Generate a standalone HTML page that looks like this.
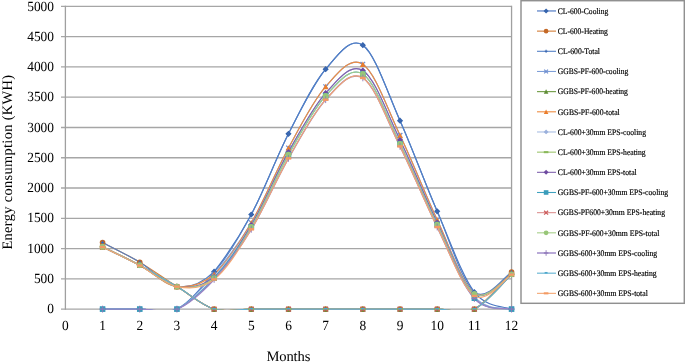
<!DOCTYPE html><html><head><meta charset="utf-8"><style>html,body{margin:0;padding:0;background:#fff;}svg{display:block;will-change:transform;}text{font-family:"Liberation Serif",serif;text-rendering:geometricPrecision;}</style></head><body>
<svg width="685" height="362" viewBox="0 0 685 362">
<rect width="685" height="362" fill="#fff"/>
<defs><clipPath id="pc"><rect x="65.40" y="6.40" width="446.66" height="303.70"/></clipPath></defs>
<path d="M61 309.10H511.56 M61 278.83H511.56 M61 248.56H511.56 M61 218.29H511.56 M61 188.02H511.56 M61 157.75H511.56 M61 127.48H511.56 M61 97.21H511.56 M61 66.94H511.56 M61 36.67H511.56 M61 6.40H511.56" stroke="#a6a6a6" stroke-width="1.3" fill="none"/>
<path d="M65.40 5.80V309.70M511.56 5.80V309.70" stroke="#a0a0a0" stroke-width="1.3" fill="none"/>
<text x="54" y="313.20" font-size="14" text-anchor="end" fill="#000" textLength="6.70" lengthAdjust="spacingAndGlyphs">0</text>
<text x="54" y="282.93" font-size="14" text-anchor="end" fill="#000" textLength="20.10" lengthAdjust="spacingAndGlyphs">500</text>
<text x="54" y="252.66" font-size="14" text-anchor="end" fill="#000" textLength="26.80" lengthAdjust="spacingAndGlyphs">1000</text>
<text x="54" y="222.39" font-size="14" text-anchor="end" fill="#000" textLength="26.80" lengthAdjust="spacingAndGlyphs">1500</text>
<text x="54" y="192.12" font-size="14" text-anchor="end" fill="#000" textLength="26.80" lengthAdjust="spacingAndGlyphs">2000</text>
<text x="54" y="161.85" font-size="14" text-anchor="end" fill="#000" textLength="26.80" lengthAdjust="spacingAndGlyphs">2500</text>
<text x="54" y="131.58" font-size="14" text-anchor="end" fill="#000" textLength="26.80" lengthAdjust="spacingAndGlyphs">3000</text>
<text x="54" y="101.31" font-size="14" text-anchor="end" fill="#000" textLength="26.80" lengthAdjust="spacingAndGlyphs">3500</text>
<text x="54" y="71.04" font-size="14" text-anchor="end" fill="#000" textLength="26.80" lengthAdjust="spacingAndGlyphs">4000</text>
<text x="54" y="40.77" font-size="14" text-anchor="end" fill="#000" textLength="26.80" lengthAdjust="spacingAndGlyphs">4500</text>
<text x="54" y="10.50" font-size="14" text-anchor="end" fill="#000" textLength="26.80" lengthAdjust="spacingAndGlyphs">5000</text>
<text x="65.40" y="329.7" font-size="14" text-anchor="middle" fill="#000" textLength="6.70" lengthAdjust="spacingAndGlyphs">0</text>
<text x="102.58" y="329.7" font-size="14" text-anchor="middle" fill="#000" textLength="6.70" lengthAdjust="spacingAndGlyphs">1</text>
<text x="139.76" y="329.7" font-size="14" text-anchor="middle" fill="#000" textLength="6.70" lengthAdjust="spacingAndGlyphs">2</text>
<text x="176.94" y="329.7" font-size="14" text-anchor="middle" fill="#000" textLength="6.70" lengthAdjust="spacingAndGlyphs">3</text>
<text x="214.12" y="329.7" font-size="14" text-anchor="middle" fill="#000" textLength="6.70" lengthAdjust="spacingAndGlyphs">4</text>
<text x="251.30" y="329.7" font-size="14" text-anchor="middle" fill="#000" textLength="6.70" lengthAdjust="spacingAndGlyphs">5</text>
<text x="288.48" y="329.7" font-size="14" text-anchor="middle" fill="#000" textLength="6.70" lengthAdjust="spacingAndGlyphs">6</text>
<text x="325.66" y="329.7" font-size="14" text-anchor="middle" fill="#000" textLength="6.70" lengthAdjust="spacingAndGlyphs">7</text>
<text x="362.84" y="329.7" font-size="14" text-anchor="middle" fill="#000" textLength="6.70" lengthAdjust="spacingAndGlyphs">8</text>
<text x="400.02" y="329.7" font-size="14" text-anchor="middle" fill="#000" textLength="6.70" lengthAdjust="spacingAndGlyphs">9</text>
<text x="437.20" y="329.7" font-size="14" text-anchor="middle" fill="#000" textLength="13.40" lengthAdjust="spacingAndGlyphs">10</text>
<text x="474.38" y="329.7" font-size="14" text-anchor="middle" fill="#000" textLength="13.40" lengthAdjust="spacingAndGlyphs">11</text>
<text x="511.56" y="329.7" font-size="14" text-anchor="middle" fill="#000" textLength="13.40" lengthAdjust="spacingAndGlyphs">12</text>
<text x="266.4" y="360.6" font-size="14.6" fill="#000" textLength="44.0">Months</text>
<text transform="translate(12.0 249.6) rotate(-90)" x="0" y="0" font-size="14.4" fill="#000" textLength="174.6">Energy consumption (KWH)</text>
<path clip-path="url(#pc)" d="M102.58 309.10 C108.78 309.10 127.37 309.10 139.76 309.10 C152.15 309.10 164.55 315.35 176.94 309.10 C189.33 302.85 201.73 287.40 214.12 271.63 C226.51 255.86 238.91 237.45 251.30 214.48 C263.69 191.50 276.09 157.99 288.48 133.78 C300.87 109.56 313.27 83.94 325.66 69.18 C338.05 54.42 350.45 36.62 362.84 45.21 C375.23 53.79 387.63 93.01 400.02 120.70 C412.41 148.39 424.81 182.75 437.20 211.33 C449.59 239.90 461.99 275.85 474.38 292.15 C486.77 308.44 505.36 306.27 511.56 309.10" stroke="#4a76c2" stroke-width="1.20" fill="none" stroke-linejoin="round" stroke-linecap="round"/>
<path clip-path="url(#pc)" d="M102.58 242.51 C108.78 245.79 127.37 254.84 139.76 262.18 C152.15 269.53 164.55 278.76 176.94 286.58 C189.33 294.40 201.73 305.35 214.12 309.10 C226.51 312.85 238.91 309.10 251.30 309.10 C263.69 309.10 276.09 309.10 288.48 309.10 C300.87 309.10 313.27 309.10 325.66 309.10 C338.05 309.10 350.45 309.10 362.84 309.10 C375.23 309.10 387.63 309.10 400.02 309.10 C412.41 309.10 424.81 309.10 437.20 309.10 C449.59 309.10 461.99 315.28 474.38 309.10 C486.77 302.92 505.36 278.22 511.56 272.05" stroke="#d5813d" stroke-width="1.20" fill="none" stroke-linejoin="round" stroke-linecap="round"/>
<path clip-path="url(#pc)" d="M102.58 242.51 C108.78 245.79 127.37 254.84 139.76 262.18 C152.15 269.53 164.55 285.01 176.94 286.58 C189.33 288.15 201.73 283.64 214.12 271.63 C226.51 259.61 238.91 237.45 251.30 214.48 C263.69 191.50 276.09 157.99 288.48 133.78 C300.87 109.56 313.27 83.94 325.66 69.18 C338.05 54.42 350.45 36.62 362.84 45.21 C375.23 53.79 387.63 93.01 400.02 120.70 C412.41 148.39 424.81 182.75 437.20 211.33 C449.59 239.90 461.99 282.03 474.38 292.15 C486.77 302.27 505.36 275.40 511.56 272.05" stroke="#5380c6" stroke-width="1.15" fill="none" stroke-linejoin="round" stroke-linecap="round"/>
<path clip-path="url(#pc)" d="M102.58 309.10 C108.78 309.10 127.37 309.10 139.76 309.10 C152.15 309.10 164.55 314.90 176.94 309.10 C189.33 303.30 201.73 288.69 214.12 274.29 C226.51 259.89 238.91 243.77 251.30 222.71 C263.69 201.65 276.09 170.62 288.48 147.94 C300.87 125.26 313.27 100.57 325.66 86.62 C338.05 72.66 350.45 56.10 362.84 64.22 C375.23 72.33 387.63 109.36 400.02 135.29 C412.41 161.22 424.81 192.90 437.20 219.80 C449.59 246.70 461.99 281.81 474.38 296.69 C486.77 311.57 505.36 307.03 511.56 309.10" stroke="#7f9fd8" stroke-width="1.15" fill="none" stroke-linejoin="round" stroke-linecap="round"/>
<path clip-path="url(#pc)" d="M102.58 246.74 C108.78 249.82 127.37 258.57 139.76 265.21 C152.15 271.85 164.55 279.26 176.94 286.58 C189.33 293.89 201.73 305.35 214.12 309.10 C226.51 312.85 238.91 309.10 251.30 309.10 C263.69 309.10 276.09 309.10 288.48 309.10 C300.87 309.10 313.27 309.10 325.66 309.10 C338.05 309.10 350.45 309.10 362.84 309.10 C375.23 309.10 387.63 309.10 400.02 309.10 C412.41 309.10 424.81 309.10 437.20 309.10 C449.59 309.10 461.99 314.93 474.38 309.10 C486.77 303.27 505.36 279.94 511.56 274.11" stroke="#6c9a40" stroke-width="1.15" fill="none" stroke-linejoin="round" stroke-linecap="round"/>
<path clip-path="url(#pc)" d="M102.58 246.74 C108.78 249.82 127.37 258.57 139.76 265.21 C152.15 271.85 164.55 285.07 176.94 286.58 C189.33 288.09 201.73 284.93 214.12 274.29 C226.51 263.64 238.91 243.77 251.30 222.71 C263.69 201.65 276.09 170.62 288.48 147.94 C300.87 125.26 313.27 100.57 325.66 86.62 C338.05 72.66 350.45 56.10 362.84 64.22 C375.23 72.33 387.63 109.36 400.02 135.29 C412.41 161.22 424.81 193.44 437.20 219.80 C449.59 246.17 461.99 284.43 474.38 293.48 C486.77 302.53 505.36 277.34 511.56 274.11" stroke="#ee8c40" stroke-width="1.15" fill="none" stroke-linejoin="round" stroke-linecap="round"/>
<path clip-path="url(#pc)" d="M102.58 309.10 C108.78 309.10 127.37 309.10 139.76 309.10 C152.15 309.10 164.55 314.45 176.94 309.10 C189.33 303.75 201.73 291.03 214.12 277.01 C226.51 263.00 238.91 245.87 251.30 225.01 C263.69 204.15 276.09 173.86 288.48 151.88 C300.87 129.89 313.27 106.64 325.66 93.09 C338.05 79.54 350.45 62.77 362.84 70.57 C375.23 78.37 387.63 114.56 400.02 139.89 C412.41 165.22 424.81 196.24 437.20 222.53 C449.59 248.81 461.99 283.17 474.38 297.60 C486.77 312.03 505.36 307.18 511.56 309.10" stroke="#a8bde3" stroke-width="1.15" fill="none" stroke-linejoin="round" stroke-linecap="round"/>
<path clip-path="url(#pc)" d="M102.58 246.74 C108.78 249.82 127.37 258.57 139.76 265.21 C152.15 271.85 164.55 279.26 176.94 286.58 C189.33 293.89 201.73 305.35 214.12 309.10 C226.51 312.85 238.91 309.10 251.30 309.10 C263.69 309.10 276.09 309.10 288.48 309.10 C300.87 309.10 313.27 309.10 325.66 309.10 C338.05 309.10 350.45 309.10 362.84 309.10 C375.23 309.10 387.63 309.10 400.02 309.10 C412.41 309.10 424.81 309.10 437.20 309.10 C449.59 309.10 461.99 314.90 474.38 309.10 C486.77 303.30 505.36 280.09 511.56 274.29" stroke="#9cc46c" stroke-width="1.15" fill="none" stroke-linejoin="round" stroke-linecap="round"/>
<path clip-path="url(#pc)" d="M102.58 246.74 C108.78 249.82 127.37 258.57 139.76 265.21 C152.15 271.85 164.55 284.61 176.94 286.58 C189.33 288.55 201.73 287.28 214.12 277.01 C226.51 266.75 238.91 245.87 251.30 225.01 C263.69 204.15 276.09 173.86 288.48 151.88 C300.87 129.89 313.27 106.64 325.66 93.09 C338.05 79.54 350.45 62.77 362.84 70.57 C375.23 78.37 387.63 114.56 400.02 139.89 C412.41 165.22 424.81 196.87 437.20 222.53 C449.59 248.19 461.99 285.22 474.38 293.84 C486.77 302.47 505.36 277.55 511.56 274.29" stroke="#8062ae" stroke-width="1.15" fill="none" stroke-linejoin="round" stroke-linecap="round"/>
<path clip-path="url(#pc)" d="M102.58 309.10 C108.78 309.10 127.37 309.10 139.76 309.10 C152.15 309.10 164.55 314.25 176.94 309.10 C189.33 303.95 201.73 291.91 214.12 278.22 C226.51 264.54 238.91 247.61 251.30 227.01 C263.69 206.40 276.09 176.46 288.48 154.60 C300.87 132.75 313.27 109.31 325.66 95.88 C338.05 82.45 350.45 66.03 362.84 74.02 C375.23 82.01 387.63 118.73 400.02 143.83 C412.41 168.92 424.81 198.86 437.20 224.59 C449.59 250.32 461.99 284.12 474.38 298.20 C486.77 312.29 505.36 307.28 511.56 309.10" stroke="#3fa2bf" stroke-width="1.15" fill="none" stroke-linejoin="round" stroke-linecap="round"/>
<path clip-path="url(#pc)" d="M102.58 246.74 C108.78 249.82 127.37 258.57 139.76 265.21 C152.15 271.85 164.55 279.26 176.94 286.58 C189.33 293.89 201.73 305.35 214.12 309.10 C226.51 312.85 238.91 309.10 251.30 309.10 C263.69 309.10 276.09 309.10 288.48 309.10 C300.87 309.10 313.27 309.10 325.66 309.10 C338.05 309.10 350.45 309.10 362.84 309.10 C375.23 309.10 387.63 309.10 400.02 309.10 C412.41 309.10 424.81 309.10 437.20 309.10 C449.59 309.10 461.99 314.90 474.38 309.10 C486.77 303.30 505.36 280.09 511.56 274.29" stroke="#dc9090" stroke-width="1.15" fill="none" stroke-linejoin="round" stroke-linecap="round"/>
<path clip-path="url(#pc)" d="M102.58 246.74 C108.78 249.82 127.37 258.57 139.76 265.21 C152.15 271.85 164.55 284.41 176.94 286.58 C189.33 288.75 201.73 288.15 214.12 278.22 C226.51 268.30 238.91 247.61 251.30 227.01 C263.69 206.40 276.09 176.46 288.48 154.60 C300.87 132.75 313.27 109.31 325.66 95.88 C338.05 82.45 350.45 66.03 362.84 74.02 C375.23 82.01 387.63 118.73 400.02 143.83 C412.41 168.92 424.81 199.58 437.20 224.59 C449.59 249.59 461.99 285.56 474.38 293.84 C486.77 302.13 505.36 277.55 511.56 274.29" stroke="#a6cf88" stroke-width="1.15" fill="none" stroke-linejoin="round" stroke-linecap="round"/>
<path clip-path="url(#pc)" d="M102.58 309.10 C108.78 309.10 127.37 309.10 139.76 309.10 C152.15 309.10 164.55 314.04 176.94 309.10 C189.33 304.16 201.73 292.73 214.12 279.44 C226.51 266.14 238.91 249.49 251.30 229.31 C263.69 209.13 276.09 179.96 288.48 158.36 C300.87 136.75 313.27 113.10 325.66 99.69 C338.05 86.28 350.45 70.12 362.84 77.90 C375.23 85.68 387.63 121.51 400.02 146.37 C412.41 171.23 424.81 201.71 437.20 227.07 C449.59 252.42 461.99 284.83 474.38 298.51 C486.77 312.18 505.36 307.33 511.56 309.10" stroke="#9a84c6" stroke-width="1.45" fill="none" stroke-linejoin="round" stroke-linecap="round"/>
<path clip-path="url(#pc)" d="M102.58 247.05 C108.78 250.12 127.37 258.92 139.76 265.51 C152.15 272.10 164.55 279.31 176.94 286.58 C189.33 293.84 201.73 305.35 214.12 309.10 C226.51 312.85 238.91 309.10 251.30 309.10 C263.69 309.10 276.09 309.10 288.48 309.10 C300.87 309.10 313.27 309.10 325.66 309.10 C338.05 309.10 350.45 309.10 362.84 309.10 C375.23 309.10 387.63 309.10 400.02 309.10 C412.41 309.10 424.81 309.10 437.20 309.10 C449.59 309.10 461.99 314.85 474.38 309.10 C486.77 303.35 505.36 280.34 511.56 274.59" stroke="#5fb1d1" stroke-width="1.15" fill="none" stroke-linejoin="round" stroke-linecap="round"/>
<path clip-path="url(#pc)" d="M102.58 247.05 C108.78 250.12 127.37 258.92 139.76 265.51 C152.15 272.10 164.55 284.26 176.94 286.58 C189.33 288.90 201.73 288.98 214.12 279.44 C226.51 269.89 238.91 249.49 251.30 229.31 C263.69 209.13 276.09 179.96 288.48 158.36 C300.87 136.75 313.27 113.10 325.66 99.69 C338.05 86.28 350.45 70.12 362.84 77.90 C375.23 85.68 387.63 121.51 400.02 146.37 C412.41 171.23 424.81 202.13 437.20 227.07 C449.59 252.01 461.99 288.10 474.38 296.02 C486.77 303.94 505.36 278.16 511.56 274.59" stroke="#f4a672" stroke-width="1.15" fill="none" stroke-linejoin="round" stroke-linecap="round"/>
<path d="M102.58 306.00L105.68 309.10L102.58 312.20L99.48 309.10Z" fill="#3463ac"/>
<path d="M139.76 306.00L142.86 309.10L139.76 312.20L136.66 309.10Z" fill="#3463ac"/>
<path d="M176.94 306.00L180.04 309.10L176.94 312.20L173.84 309.10Z" fill="#3463ac"/>
<path d="M214.12 268.53L217.22 271.63L214.12 274.73L211.02 271.63Z" fill="#3463ac"/>
<path d="M251.30 211.38L254.40 214.48L251.30 217.58L248.20 214.48Z" fill="#3463ac"/>
<path d="M288.48 130.68L291.58 133.78L288.48 136.88L285.38 133.78Z" fill="#3463ac"/>
<path d="M325.66 66.08L328.76 69.18L325.66 72.28L322.56 69.18Z" fill="#3463ac"/>
<path d="M362.84 42.11L365.94 45.21L362.84 48.31L359.74 45.21Z" fill="#3463ac"/>
<path d="M400.02 117.60L403.12 120.70L400.02 123.80L396.92 120.70Z" fill="#3463ac"/>
<path d="M437.20 208.23L440.30 211.33L437.20 214.43L434.10 211.33Z" fill="#3463ac"/>
<path d="M474.38 289.05L477.48 292.15L474.38 295.25L471.28 292.15Z" fill="#3463ac"/>
<path d="M511.56 306.00L514.66 309.10L511.56 312.20L508.46 309.10Z" fill="#3463ac"/>
<circle cx="102.58" cy="242.51" r="2.80" fill="#c46826"/>
<circle cx="139.76" cy="262.18" r="2.80" fill="#c46826"/>
<circle cx="176.94" cy="286.58" r="2.80" fill="#c46826"/>
<circle cx="214.12" cy="309.10" r="2.80" fill="#c46826"/>
<circle cx="251.30" cy="309.10" r="2.80" fill="#c46826"/>
<circle cx="288.48" cy="309.10" r="2.80" fill="#c46826"/>
<circle cx="325.66" cy="309.10" r="2.80" fill="#c46826"/>
<circle cx="362.84" cy="309.10" r="2.80" fill="#c46826"/>
<circle cx="400.02" cy="309.10" r="2.80" fill="#c46826"/>
<circle cx="437.20" cy="309.10" r="2.80" fill="#c46826"/>
<circle cx="474.38" cy="309.10" r="2.80" fill="#c46826"/>
<circle cx="511.56" cy="272.05" r="2.80" fill="#c46826"/>
<path d="M100.98 242.51L104.18 242.51" stroke="#3d69b2" stroke-width="1.3" fill="none"/><path d="M102.58 240.51L102.58 244.51" stroke="#3d69b2" stroke-width="0.9" fill="none"/>
<path d="M138.16 262.18L141.36 262.18" stroke="#3d69b2" stroke-width="1.3" fill="none"/><path d="M139.76 260.18L139.76 264.18" stroke="#3d69b2" stroke-width="0.9" fill="none"/>
<path d="M175.34 286.58L178.54 286.58" stroke="#3d69b2" stroke-width="1.3" fill="none"/><path d="M176.94 284.58L176.94 288.58" stroke="#3d69b2" stroke-width="0.9" fill="none"/>
<path d="M212.52 271.63L215.72 271.63" stroke="#3d69b2" stroke-width="1.3" fill="none"/><path d="M214.12 269.63L214.12 273.63" stroke="#3d69b2" stroke-width="0.9" fill="none"/>
<path d="M249.70 214.48L252.90 214.48" stroke="#3d69b2" stroke-width="1.3" fill="none"/><path d="M251.30 212.48L251.30 216.48" stroke="#3d69b2" stroke-width="0.9" fill="none"/>
<path d="M286.88 133.78L290.08 133.78" stroke="#3d69b2" stroke-width="1.3" fill="none"/><path d="M288.48 131.78L288.48 135.78" stroke="#3d69b2" stroke-width="0.9" fill="none"/>
<path d="M324.06 69.18L327.26 69.18" stroke="#3d69b2" stroke-width="1.3" fill="none"/><path d="M325.66 67.18L325.66 71.18" stroke="#3d69b2" stroke-width="0.9" fill="none"/>
<path d="M361.24 45.21L364.44 45.21" stroke="#3d69b2" stroke-width="1.3" fill="none"/><path d="M362.84 43.21L362.84 47.21" stroke="#3d69b2" stroke-width="0.9" fill="none"/>
<path d="M398.42 120.70L401.62 120.70" stroke="#3d69b2" stroke-width="1.3" fill="none"/><path d="M400.02 118.70L400.02 122.70" stroke="#3d69b2" stroke-width="0.9" fill="none"/>
<path d="M435.60 211.33L438.80 211.33" stroke="#3d69b2" stroke-width="1.3" fill="none"/><path d="M437.20 209.33L437.20 213.33" stroke="#3d69b2" stroke-width="0.9" fill="none"/>
<path d="M472.78 292.15L475.98 292.15" stroke="#3d69b2" stroke-width="1.3" fill="none"/><path d="M474.38 290.15L474.38 294.15" stroke="#3d69b2" stroke-width="0.9" fill="none"/>
<path d="M509.96 272.05L513.16 272.05" stroke="#3d69b2" stroke-width="1.3" fill="none"/><path d="M511.56 270.05L511.56 274.05" stroke="#3d69b2" stroke-width="0.9" fill="none"/>
<path d="M100.28 306.80L104.88 311.40M100.28 311.40L104.88 306.80" stroke="#6f8fd0" stroke-width="1.25" fill="none"/>
<path d="M137.46 306.80L142.06 311.40M137.46 311.40L142.06 306.80" stroke="#6f8fd0" stroke-width="1.25" fill="none"/>
<path d="M174.64 306.80L179.24 311.40M174.64 311.40L179.24 306.80" stroke="#6f8fd0" stroke-width="1.25" fill="none"/>
<path d="M211.82 271.99L216.42 276.59M211.82 276.59L216.42 271.99" stroke="#6f8fd0" stroke-width="1.25" fill="none"/>
<path d="M249.00 220.41L253.60 225.01M249.00 225.01L253.60 220.41" stroke="#6f8fd0" stroke-width="1.25" fill="none"/>
<path d="M286.18 145.64L290.78 150.24M286.18 150.24L290.78 145.64" stroke="#6f8fd0" stroke-width="1.25" fill="none"/>
<path d="M323.36 84.32L327.96 88.92M323.36 88.92L327.96 84.32" stroke="#6f8fd0" stroke-width="1.25" fill="none"/>
<path d="M360.54 61.92L365.14 66.52M360.54 66.52L365.14 61.92" stroke="#6f8fd0" stroke-width="1.25" fill="none"/>
<path d="M397.72 132.99L402.32 137.59M397.72 137.59L402.32 132.99" stroke="#6f8fd0" stroke-width="1.25" fill="none"/>
<path d="M434.90 217.50L439.50 222.10M434.90 222.10L439.50 217.50" stroke="#6f8fd0" stroke-width="1.25" fill="none"/>
<path d="M472.08 294.39L476.68 298.99M472.08 298.99L476.68 294.39" stroke="#6f8fd0" stroke-width="1.25" fill="none"/>
<path d="M509.26 306.80L513.86 311.40M509.26 311.40L513.86 306.80" stroke="#6f8fd0" stroke-width="1.25" fill="none"/>
<path d="M102.58 243.94L105.38 249.40L99.78 249.40Z" fill="#5e8c34"/>
<path d="M139.76 262.41L142.56 267.87L136.96 267.87Z" fill="#5e8c34"/>
<path d="M176.94 283.78L179.74 289.24L174.14 289.24Z" fill="#5e8c34"/>
<path d="M214.12 306.30L216.92 311.76L211.32 311.76Z" fill="#5e8c34"/>
<path d="M251.30 306.30L254.10 311.76L248.50 311.76Z" fill="#5e8c34"/>
<path d="M288.48 306.30L291.28 311.76L285.68 311.76Z" fill="#5e8c34"/>
<path d="M325.66 306.30L328.46 311.76L322.86 311.76Z" fill="#5e8c34"/>
<path d="M362.84 306.30L365.64 311.76L360.04 311.76Z" fill="#5e8c34"/>
<path d="M400.02 306.30L402.82 311.76L397.22 311.76Z" fill="#5e8c34"/>
<path d="M437.20 306.30L440.00 311.76L434.40 311.76Z" fill="#5e8c34"/>
<path d="M474.38 306.30L477.18 311.76L471.58 311.76Z" fill="#5e8c34"/>
<path d="M511.56 271.31L514.36 276.77L508.76 276.77Z" fill="#5e8c34"/>
<path d="M102.58 243.94L105.38 249.40L99.78 249.40Z" fill="#ea7d2c"/>
<path d="M139.76 262.41L142.56 267.87L136.96 267.87Z" fill="#ea7d2c"/>
<path d="M176.94 283.78L179.74 289.24L174.14 289.24Z" fill="#ea7d2c"/>
<path d="M214.12 271.49L216.92 276.95L211.32 276.95Z" fill="#ea7d2c"/>
<path d="M251.30 219.91L254.10 225.37L248.50 225.37Z" fill="#ea7d2c"/>
<path d="M288.48 145.14L291.28 150.60L285.68 150.60Z" fill="#ea7d2c"/>
<path d="M325.66 83.82L328.46 89.28L322.86 89.28Z" fill="#ea7d2c"/>
<path d="M362.84 61.42L365.64 66.88L360.04 66.88Z" fill="#ea7d2c"/>
<path d="M400.02 132.49L402.82 137.95L397.22 137.95Z" fill="#ea7d2c"/>
<path d="M437.20 217.00L440.00 222.46L434.40 222.46Z" fill="#ea7d2c"/>
<path d="M474.38 290.68L477.18 296.14L471.58 296.14Z" fill="#ea7d2c"/>
<path d="M511.56 271.31L514.36 276.77L508.76 276.77Z" fill="#ea7d2c"/>
<path d="M102.58 306.20L105.48 309.10L102.58 312.00L99.68 309.10Z" fill="#9ab0dc"/>
<path d="M139.76 306.20L142.66 309.10L139.76 312.00L136.86 309.10Z" fill="#9ab0dc"/>
<path d="M176.94 306.20L179.84 309.10L176.94 312.00L174.04 309.10Z" fill="#9ab0dc"/>
<path d="M214.12 274.11L217.02 277.01L214.12 279.91L211.22 277.01Z" fill="#9ab0dc"/>
<path d="M251.30 222.11L254.20 225.01L251.30 227.91L248.40 225.01Z" fill="#9ab0dc"/>
<path d="M288.48 148.98L291.38 151.88L288.48 154.78L285.58 151.88Z" fill="#9ab0dc"/>
<path d="M325.66 90.19L328.56 93.09L325.66 95.99L322.76 93.09Z" fill="#9ab0dc"/>
<path d="M362.84 67.67L365.74 70.57L362.84 73.47L359.94 70.57Z" fill="#9ab0dc"/>
<path d="M400.02 136.99L402.92 139.89L400.02 142.79L397.12 139.89Z" fill="#9ab0dc"/>
<path d="M437.20 219.63L440.10 222.53L437.20 225.43L434.30 222.53Z" fill="#9ab0dc"/>
<path d="M474.38 294.70L477.28 297.60L474.38 300.50L471.48 297.60Z" fill="#9ab0dc"/>
<path d="M511.56 306.20L514.46 309.10L511.56 312.00L508.66 309.10Z" fill="#9ab0dc"/>
<rect x="99.78" y="245.48" width="5.60" height="2.52" fill="#8ab85a"/>
<rect x="136.96" y="263.95" width="5.60" height="2.52" fill="#8ab85a"/>
<rect x="174.14" y="285.32" width="5.60" height="2.52" fill="#8ab85a"/>
<rect x="211.32" y="307.84" width="5.60" height="2.52" fill="#8ab85a"/>
<rect x="248.50" y="307.84" width="5.60" height="2.52" fill="#8ab85a"/>
<rect x="285.68" y="307.84" width="5.60" height="2.52" fill="#8ab85a"/>
<rect x="322.86" y="307.84" width="5.60" height="2.52" fill="#8ab85a"/>
<rect x="360.04" y="307.84" width="5.60" height="2.52" fill="#8ab85a"/>
<rect x="397.22" y="307.84" width="5.60" height="2.52" fill="#8ab85a"/>
<rect x="434.40" y="307.84" width="5.60" height="2.52" fill="#8ab85a"/>
<rect x="471.58" y="307.84" width="5.60" height="2.52" fill="#8ab85a"/>
<rect x="508.76" y="273.03" width="5.60" height="2.52" fill="#8ab85a"/>
<path d="M102.58 243.74L105.58 246.74L102.58 249.74L99.58 246.74Z" fill="#6e4aa0"/>
<path d="M139.76 262.21L142.76 265.21L139.76 268.21L136.76 265.21Z" fill="#6e4aa0"/>
<path d="M176.94 283.58L179.94 286.58L176.94 289.58L173.94 286.58Z" fill="#6e4aa0"/>
<path d="M214.12 274.01L217.12 277.01L214.12 280.01L211.12 277.01Z" fill="#6e4aa0"/>
<path d="M251.30 222.01L254.30 225.01L251.30 228.01L248.30 225.01Z" fill="#6e4aa0"/>
<path d="M288.48 148.88L291.48 151.88L288.48 154.88L285.48 151.88Z" fill="#6e4aa0"/>
<path d="M325.66 90.09L328.66 93.09L325.66 96.09L322.66 93.09Z" fill="#6e4aa0"/>
<path d="M362.84 67.57L365.84 70.57L362.84 73.57L359.84 70.57Z" fill="#6e4aa0"/>
<path d="M400.02 136.89L403.02 139.89L400.02 142.89L397.02 139.89Z" fill="#6e4aa0"/>
<path d="M437.20 219.53L440.20 222.53L437.20 225.53L434.20 222.53Z" fill="#6e4aa0"/>
<path d="M474.38 290.84L477.38 293.84L474.38 296.84L471.38 293.84Z" fill="#6e4aa0"/>
<path d="M511.56 271.29L514.56 274.29L511.56 277.29L508.56 274.29Z" fill="#6e4aa0"/>
<rect x="99.78" y="306.30" width="5.60" height="5.60" fill="#3a9cba"/>
<rect x="136.96" y="306.30" width="5.60" height="5.60" fill="#3a9cba"/>
<rect x="174.14" y="306.30" width="5.60" height="5.60" fill="#3a9cba"/>
<rect x="211.32" y="275.42" width="5.60" height="5.60" fill="#3a9cba"/>
<rect x="248.50" y="224.21" width="5.60" height="5.60" fill="#3a9cba"/>
<rect x="285.68" y="151.80" width="5.60" height="5.60" fill="#3a9cba"/>
<rect x="322.86" y="93.08" width="5.60" height="5.60" fill="#3a9cba"/>
<rect x="360.04" y="71.22" width="5.60" height="5.60" fill="#3a9cba"/>
<rect x="397.22" y="141.03" width="5.60" height="5.60" fill="#3a9cba"/>
<rect x="434.40" y="221.79" width="5.60" height="5.60" fill="#3a9cba"/>
<rect x="471.58" y="295.40" width="5.60" height="5.60" fill="#3a9cba"/>
<rect x="508.76" y="306.30" width="5.60" height="5.60" fill="#3a9cba"/>
<path d="M100.18 244.34L104.98 249.14M100.18 249.14L104.98 244.34" stroke="#cc5c5c" stroke-width="1.25" fill="none"/>
<path d="M137.36 262.81L142.16 267.61M137.36 267.61L142.16 262.81" stroke="#cc5c5c" stroke-width="1.25" fill="none"/>
<path d="M174.54 284.18L179.34 288.98M174.54 288.98L179.34 284.18" stroke="#cc5c5c" stroke-width="1.25" fill="none"/>
<path d="M211.72 306.70L216.52 311.50M211.72 311.50L216.52 306.70" stroke="#cc5c5c" stroke-width="1.25" fill="none"/>
<path d="M248.90 306.70L253.70 311.50M248.90 311.50L253.70 306.70" stroke="#cc5c5c" stroke-width="1.25" fill="none"/>
<path d="M286.08 306.70L290.88 311.50M286.08 311.50L290.88 306.70" stroke="#cc5c5c" stroke-width="1.25" fill="none"/>
<path d="M323.26 306.70L328.06 311.50M323.26 311.50L328.06 306.70" stroke="#cc5c5c" stroke-width="1.25" fill="none"/>
<path d="M360.44 306.70L365.24 311.50M360.44 311.50L365.24 306.70" stroke="#cc5c5c" stroke-width="1.25" fill="none"/>
<path d="M397.62 306.70L402.42 311.50M397.62 311.50L402.42 306.70" stroke="#cc5c5c" stroke-width="1.25" fill="none"/>
<path d="M434.80 306.70L439.60 311.50M434.80 311.50L439.60 306.70" stroke="#cc5c5c" stroke-width="1.25" fill="none"/>
<path d="M471.98 306.70L476.78 311.50M471.98 311.50L476.78 306.70" stroke="#cc5c5c" stroke-width="1.25" fill="none"/>
<path d="M509.16 271.89L513.96 276.69M509.16 276.69L513.96 271.89" stroke="#cc5c5c" stroke-width="1.25" fill="none"/>
<circle cx="102.58" cy="246.74" r="2.90" fill="#98c678"/>
<circle cx="139.76" cy="265.21" r="2.90" fill="#98c678"/>
<circle cx="176.94" cy="286.58" r="2.90" fill="#98c678"/>
<circle cx="214.12" cy="278.22" r="2.90" fill="#98c678"/>
<circle cx="251.30" cy="227.01" r="2.90" fill="#98c678"/>
<circle cx="288.48" cy="154.60" r="2.90" fill="#98c678"/>
<circle cx="325.66" cy="95.88" r="2.90" fill="#98c678"/>
<circle cx="362.84" cy="74.02" r="2.90" fill="#98c678"/>
<circle cx="400.02" cy="143.83" r="2.90" fill="#98c678"/>
<circle cx="437.20" cy="224.59" r="2.90" fill="#98c678"/>
<circle cx="474.38" cy="293.84" r="2.90" fill="#98c678"/>
<circle cx="511.56" cy="274.29" r="2.90" fill="#98c678"/>
<path d="M99.86 309.10L105.30 309.10" stroke="#8e78b8" stroke-width="1.3" fill="none"/><path d="M102.58 305.70L102.58 312.50" stroke="#8e78b8" stroke-width="0.9" fill="none"/>
<path d="M137.04 309.10L142.48 309.10" stroke="#8e78b8" stroke-width="1.3" fill="none"/><path d="M139.76 305.70L139.76 312.50" stroke="#8e78b8" stroke-width="0.9" fill="none"/>
<path d="M174.22 309.10L179.66 309.10" stroke="#8e78b8" stroke-width="1.3" fill="none"/><path d="M176.94 305.70L176.94 312.50" stroke="#8e78b8" stroke-width="0.9" fill="none"/>
<path d="M211.40 279.44L216.84 279.44" stroke="#8e78b8" stroke-width="1.3" fill="none"/><path d="M214.12 276.04L214.12 282.84" stroke="#8e78b8" stroke-width="0.9" fill="none"/>
<path d="M248.58 229.31L254.02 229.31" stroke="#8e78b8" stroke-width="1.3" fill="none"/><path d="M251.30 225.91L251.30 232.71" stroke="#8e78b8" stroke-width="0.9" fill="none"/>
<path d="M285.76 158.36L291.20 158.36" stroke="#8e78b8" stroke-width="1.3" fill="none"/><path d="M288.48 154.96L288.48 161.76" stroke="#8e78b8" stroke-width="0.9" fill="none"/>
<path d="M322.94 99.69L328.38 99.69" stroke="#8e78b8" stroke-width="1.3" fill="none"/><path d="M325.66 96.29L325.66 103.09" stroke="#8e78b8" stroke-width="0.9" fill="none"/>
<path d="M360.12 77.90L365.56 77.90" stroke="#8e78b8" stroke-width="1.3" fill="none"/><path d="M362.84 74.50L362.84 81.30" stroke="#8e78b8" stroke-width="0.9" fill="none"/>
<path d="M397.30 146.37L402.74 146.37" stroke="#8e78b8" stroke-width="1.3" fill="none"/><path d="M400.02 142.97L400.02 149.77" stroke="#8e78b8" stroke-width="0.9" fill="none"/>
<path d="M434.48 227.07L439.92 227.07" stroke="#8e78b8" stroke-width="1.3" fill="none"/><path d="M437.20 223.67L437.20 230.47" stroke="#8e78b8" stroke-width="0.9" fill="none"/>
<path d="M471.66 298.51L477.10 298.51" stroke="#8e78b8" stroke-width="1.3" fill="none"/><path d="M474.38 295.11L474.38 301.91" stroke="#8e78b8" stroke-width="0.9" fill="none"/>
<path d="M508.84 309.10L514.28 309.10" stroke="#8e78b8" stroke-width="1.3" fill="none"/><path d="M511.56 305.70L511.56 312.50" stroke="#8e78b8" stroke-width="0.9" fill="none"/>
<rect x="100.78" y="245.85" width="3.60" height="1.60" fill="#4fa8cc"/>
<rect x="137.96" y="264.31" width="3.60" height="1.60" fill="#4fa8cc"/>
<rect x="175.14" y="285.38" width="3.60" height="1.60" fill="#4fa8cc"/>
<rect x="212.32" y="307.90" width="3.60" height="1.60" fill="#4fa8cc"/>
<rect x="249.50" y="307.90" width="3.60" height="1.60" fill="#4fa8cc"/>
<rect x="286.68" y="307.90" width="3.60" height="1.60" fill="#4fa8cc"/>
<rect x="323.86" y="307.90" width="3.60" height="1.60" fill="#4fa8cc"/>
<rect x="361.04" y="307.90" width="3.60" height="1.60" fill="#4fa8cc"/>
<rect x="398.22" y="307.90" width="3.60" height="1.60" fill="#4fa8cc"/>
<rect x="435.40" y="307.90" width="3.60" height="1.60" fill="#4fa8cc"/>
<rect x="472.58" y="307.90" width="3.60" height="1.60" fill="#4fa8cc"/>
<rect x="509.76" y="273.39" width="3.60" height="1.60" fill="#4fa8cc"/>
<rect x="99.78" y="245.79" width="5.60" height="2.52" fill="#f39a64"/>
<rect x="136.96" y="264.25" width="5.60" height="2.52" fill="#f39a64"/>
<rect x="174.14" y="285.32" width="5.60" height="2.52" fill="#f39a64"/>
<rect x="211.32" y="278.18" width="5.60" height="2.52" fill="#f39a64"/>
<rect x="248.50" y="228.05" width="5.60" height="2.52" fill="#f39a64"/>
<rect x="285.68" y="157.10" width="5.60" height="2.52" fill="#f39a64"/>
<rect x="322.86" y="98.43" width="5.60" height="2.52" fill="#f39a64"/>
<rect x="360.04" y="76.64" width="5.60" height="2.52" fill="#f39a64"/>
<rect x="397.22" y="145.11" width="5.60" height="2.52" fill="#f39a64"/>
<rect x="434.40" y="225.81" width="5.60" height="2.52" fill="#f39a64"/>
<rect x="471.58" y="294.76" width="5.60" height="2.52" fill="#f39a64"/>
<rect x="508.76" y="273.33" width="5.60" height="2.52" fill="#f39a64"/>
<rect x="521.0" y="0.7" width="163.3" height="302.6" fill="#fff" stroke="#909090" stroke-width="1.45"/>
<path d="M537 10.96H556" stroke="#4a76c2" stroke-width="1.14" fill="none"/>
<path d="M546.10 8.42L548.64 10.96L546.10 13.50L543.56 10.96Z" fill="#3463ac"/>
<text x="557.8" y="13.66" font-size="8.5" fill="#000" stroke="#000" stroke-width="0.18" textLength="50.40" lengthAdjust="spacingAndGlyphs">CL-600-Cooling</text>
<path d="M537 31.13H556" stroke="#d5813d" stroke-width="1.14" fill="none"/>
<circle cx="546.10" cy="31.13" r="2.30" fill="#c46826"/>
<text x="557.8" y="33.83" font-size="8.5" fill="#000" stroke="#000" stroke-width="0.18" textLength="50.10" lengthAdjust="spacingAndGlyphs">CL-600-Heating</text>
<path d="M537 51.30H556" stroke="#5380c6" stroke-width="1.09" fill="none"/>
<path d="M544.79 51.30L547.41 51.30" stroke="#3d69b2" stroke-width="1.3" fill="none"/><path d="M546.10 49.66L546.10 52.94" stroke="#3d69b2" stroke-width="0.9" fill="none"/>
<text x="557.8" y="54.00" font-size="8.5" fill="#000" stroke="#000" stroke-width="0.18" textLength="42.20" lengthAdjust="spacingAndGlyphs">CL-600-Total</text>
<path d="M537 71.47H556" stroke="#7f9fd8" stroke-width="1.09" fill="none"/>
<path d="M544.21 69.58L547.99 73.36M544.21 73.36L547.99 69.58" stroke="#6f8fd0" stroke-width="1.25" fill="none"/>
<text x="557.8" y="74.17" font-size="8.5" fill="#000" stroke="#000" stroke-width="0.18" textLength="70.50" lengthAdjust="spacingAndGlyphs">GGBS-PF-600-cooling</text>
<path d="M537 91.64H556" stroke="#6c9a40" stroke-width="1.09" fill="none"/>
<path d="M546.10 89.34L548.40 93.82L543.80 93.82Z" fill="#5e8c34"/>
<text x="557.8" y="94.34" font-size="8.5" fill="#000" stroke="#000" stroke-width="0.18" textLength="70.10" lengthAdjust="spacingAndGlyphs">GGBS-PF-600-heating</text>
<path d="M537 111.81H556" stroke="#ee8c40" stroke-width="1.09" fill="none"/>
<path d="M546.10 109.51L548.40 113.99L543.80 113.99Z" fill="#ea7d2c"/>
<text x="557.8" y="114.51" font-size="8.5" fill="#000" stroke="#000" stroke-width="0.18" textLength="61.90" lengthAdjust="spacingAndGlyphs">GGBS-PF-600-total</text>
<path d="M537 131.98H556" stroke="#a8bde3" stroke-width="1.09" fill="none"/>
<path d="M546.10 129.60L548.48 131.98L546.10 134.36L543.72 131.98Z" fill="#9ab0dc"/>
<text x="557.8" y="134.68" font-size="8.5" fill="#000" stroke="#000" stroke-width="0.18" textLength="88.20" lengthAdjust="spacingAndGlyphs">CL-600+30mm EPS-cooling</text>
<path d="M537 152.15H556" stroke="#9cc46c" stroke-width="1.09" fill="none"/>
<rect x="543.80" y="151.12" width="4.59" height="2.07" fill="#8ab85a"/>
<text x="557.8" y="154.85" font-size="8.5" fill="#000" stroke="#000" stroke-width="0.18" textLength="87.80" lengthAdjust="spacingAndGlyphs">CL-600+30mm EPS-heating</text>
<path d="M537 172.32H556" stroke="#8062ae" stroke-width="1.09" fill="none"/>
<path d="M546.10 169.86L548.56 172.32L546.10 174.78L543.64 172.32Z" fill="#6e4aa0"/>
<text x="557.8" y="175.02" font-size="8.5" fill="#000" stroke="#000" stroke-width="0.18" textLength="78.90" lengthAdjust="spacingAndGlyphs">CL-600+30mm EPS-total</text>
<path d="M537 192.49H556" stroke="#3fa2bf" stroke-width="1.09" fill="none"/>
<rect x="543.80" y="190.19" width="4.59" height="4.59" fill="#3a9cba"/>
<text x="557.8" y="195.19" font-size="8.5" fill="#000" stroke="#000" stroke-width="0.18" textLength="110.30" lengthAdjust="spacingAndGlyphs">GGBS-PF-600+30mm EPS-cooling</text>
<path d="M537 212.66H556" stroke="#dc9090" stroke-width="1.09" fill="none"/>
<path d="M544.13 210.69L548.07 214.63M544.13 214.63L548.07 210.69" stroke="#cc5c5c" stroke-width="1.25" fill="none"/>
<text x="557.8" y="215.36" font-size="8.5" fill="#000" stroke="#000" stroke-width="0.18" textLength="107.20" lengthAdjust="spacingAndGlyphs">GGBS-PF600+30mm EPS-heating</text>
<path d="M537 232.83H556" stroke="#a6cf88" stroke-width="1.09" fill="none"/>
<circle cx="546.10" cy="232.83" r="2.38" fill="#98c678"/>
<text x="557.8" y="235.53" font-size="8.5" fill="#000" stroke="#000" stroke-width="0.18" textLength="101.50" lengthAdjust="spacingAndGlyphs">GGBS-PF-600+30mm EPS-total</text>
<path d="M537 253.00H556" stroke="#9a84c6" stroke-width="1.38" fill="none"/>
<path d="M543.87 253.00L548.33 253.00" stroke="#8e78b8" stroke-width="1.3" fill="none"/><path d="M546.10 250.21L546.10 255.79" stroke="#8e78b8" stroke-width="0.9" fill="none"/>
<text x="557.8" y="255.70" font-size="8.5" fill="#000" stroke="#000" stroke-width="0.18" textLength="99.30" lengthAdjust="spacingAndGlyphs">GGBS-600+30mm EPS-cooling</text>
<path d="M537 273.17H556" stroke="#5fb1d1" stroke-width="1.09" fill="none"/>
<rect x="544.62" y="271.97" width="2.95" height="1.60" fill="#4fa8cc"/>
<text x="557.8" y="275.87" font-size="8.5" fill="#000" stroke="#000" stroke-width="0.18" textLength="98.80" lengthAdjust="spacingAndGlyphs">GGBS-600+30mm EPS-heating</text>
<path d="M537 293.34H556" stroke="#f4a672" stroke-width="1.09" fill="none"/>
<rect x="543.80" y="292.31" width="4.59" height="2.07" fill="#f39a64"/>
<text x="557.8" y="296.04" font-size="8.5" fill="#000" stroke="#000" stroke-width="0.18" textLength="90.00" lengthAdjust="spacingAndGlyphs">GGBS-600+30mm EPS-total</text>
</svg></body></html>
